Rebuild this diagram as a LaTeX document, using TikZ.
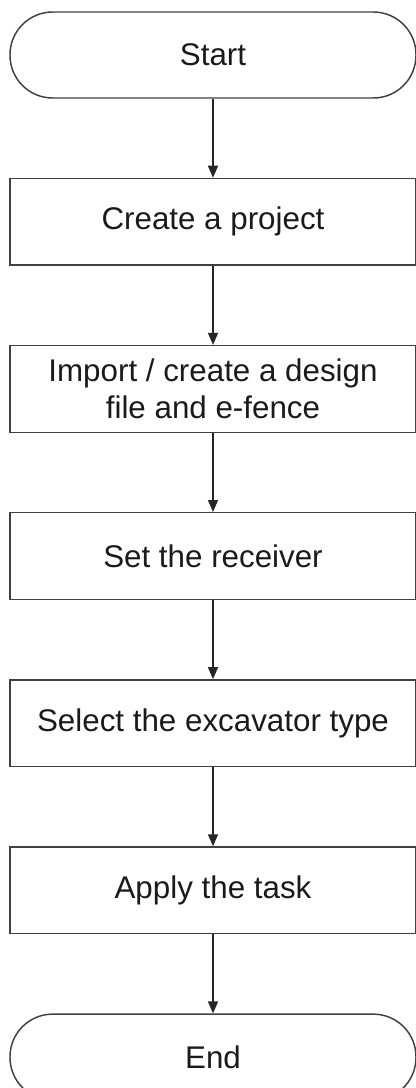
\documentclass[tikz,border=0pt]{standalone}
\usepackage{fontspec}
\setmainfont{Liberation Sans}
\usetikzlibrary{positioning, arrows.meta}
\definecolor{boxline}{HTML}{404040}
\definecolor{boxtext}{HTML}{1A1A1A}
\tikzset{
	stepbox/.style={draw=boxline, line width=1.1pt, minimum width=304.5pt, minimum height=65pt,
		inner sep=2pt, align=center, font=\fontsize{23.5}{27.75}\selectfont\color{boxtext}}
}
\tikzset{
	termbox/.style={stepbox, rounded corners=32pt, minimum height=64.5pt}
}
\tikzset{
	flowarrow/.style={line width=1.1pt, draw=black!85, -{Triangle[length=9pt,width=7.5pt]}}
}

\begin{document}
\begin{tikzpicture}
      \useasboundingbox (0,0) rectangle (312pt,-816pt);
      \node[termbox] (start) at (159.75pt,-41.25pt) {Start};
      \node[stepbox, below=59.25pt of start] (project) {Create a project};
      \node[stepbox, below=59.25pt of project] (design) {Import / create a design\\file and e-fence};
      \node[stepbox, below=59.25pt of design] (receiver) {Set the receiver};
      \node[stepbox, below=59.25pt of receiver] (excavator) {Select the excavator type};
      \node[stepbox, below=59.25pt of excavator] (task) {Apply the task};
      \node[termbox, below=59.25pt of task] (end) {End};
      \draw[flowarrow] (start) -- (project);
      \draw[flowarrow] (project) -- (design);
      \draw[flowarrow] (design) -- (receiver);
      \draw[flowarrow] (receiver) -- (excavator);
      \draw[flowarrow] (excavator) -- (task);
      \draw[flowarrow] (task) -- (end);
    \end{tikzpicture}
\end{document}
